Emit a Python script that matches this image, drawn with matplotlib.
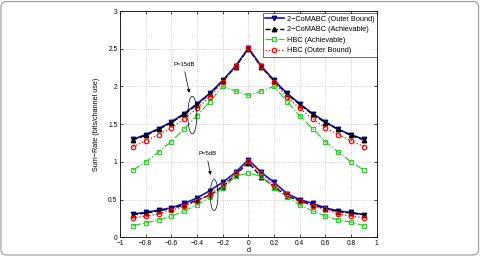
import matplotlib
matplotlib.use('Agg')
import matplotlib.pyplot as plt
from matplotlib.patches import Ellipse, FancyBboxPatch

plt.rcParams['font.family'] = ['Liberation Sans', 'DejaVu Sans']
plt.rcParams['axes.unicode_minus'] = True

# distance d
d = [-0.9, -0.8, -0.7, -0.6, -0.5, -0.4, -0.3, -0.2, -0.1, 0.0,
     0.1, 0.2, 0.3, 0.4, 0.5, 0.6, 0.7, 0.8, 0.9]

# P = 15 dB
co_outer_15 = [1.30, 1.36, 1.44, 1.53, 1.64, 1.77, 1.91, 2.08, 2.27, 2.51,
               2.27, 2.08, 1.91, 1.77, 1.64, 1.53, 1.43, 1.36, 1.30]
co_ach_15 = [1.29, 1.35, 1.43, 1.52, 1.63, 1.76, 1.90, 2.07, 2.26, 2.50,
             2.26, 2.07, 1.90, 1.76, 1.63, 1.52, 1.43, 1.35, 1.29]
hbc_ach_15 = [0.89, 1.00, 1.13, 1.27, 1.44, 1.61, 1.80, 2.00, 1.94, 1.88,
              1.94, 2.00, 1.80, 1.61, 1.44, 1.27, 1.13, 1.00, 0.89]
hbc_outer_15 = [1.20, 1.28, 1.36, 1.45, 1.57, 1.71, 1.86, 2.06, 2.27, 2.51,
                2.27, 2.06, 1.86, 1.71, 1.57, 1.45, 1.36, 1.28, 1.20]

# P = 5 dB
co_outer_5 = [0.31, 0.33, 0.36, 0.39, 0.45, 0.52, 0.62, 0.73, 0.86, 1.03,
              0.86, 0.73, 0.58, 0.50, 0.45, 0.39, 0.35, 0.33, 0.30]
co_ach_5 = [0.30, 0.32, 0.35, 0.38, 0.43, 0.49, 0.56, 0.67, 0.83, 0.99,
            0.80, 0.67, 0.55, 0.48, 0.43, 0.38, 0.34, 0.32, 0.30]
hbc_ach_5 = [0.155, 0.19, 0.23, 0.28, 0.35, 0.43, 0.53, 0.65, 0.81, 0.85,
             0.81, 0.65, 0.53, 0.43, 0.35, 0.28, 0.23, 0.20, 0.155]
hbc_outer_5 = [0.26, 0.28, 0.31, 0.36, 0.41, 0.48, 0.57, 0.69, 0.85, 1.01,
               0.85, 0.69, 0.575, 0.48, 0.415, 0.37, 0.31, 0.28, 0.26]

labels = ['2\u2212CoMABC (Outer Bound)', '2\u2212CoMABC (Achievable)',
          'HBC (Achievable)', 'HBC (Outer Bound)']
green = '#33cc33'

fig = plt.figure(figsize=(4.8, 2.56), dpi=100)
ax = fig.add_axes([0.25, 0.073, 0.535, 0.884])

ms = 3.2
styles = [
    dict(color='#1010d0', ls='-', marker='v', mfc='#2020c0', mec='#000080', lw=1.2, ms=ms),
    dict(color='k', ls='--', marker='^', mfc='k', mec='k', lw=1.0, ms=ms),
    dict(color=green, ls='-.', marker='s', mfc='none', mec=green, lw=0.9, ms=ms, mew=0.9),
    dict(color='r', ls=':', marker='o', mfc='none', mec='r', lw=0.9, ms=ms, mew=0.9),
]

series_15 = [co_outer_15, co_ach_15, hbc_ach_15, hbc_outer_15]
series_5 = [co_outer_5, co_ach_5, hbc_ach_5, hbc_outer_5]
draw_order = [2, 3, 1, 0]
for i in draw_order:
    ax.plot(d, series_15[i], label=labels[i], zorder=3 + i, **styles[i])
    ax.plot(d, series_5[i], zorder=3 + i, **styles[i])

ax.set_xlim(-1, 1)
ax.set_ylim(0, 3)
ax.set_xticks([-1, -0.8, -0.6, -0.4, -0.2, 0, 0.2, 0.4, 0.6, 0.8, 1])
ax.set_xticklabels(['\u22121', '\u22120.8', '\u22120.6', '\u22120.4', '\u22120.2',
                    '0', '0.2', '0.4', '0.6', '0.8', '1'])
ax.set_yticks([0, 0.5, 1, 1.5, 2, 2.5, 3])
ax.set_yticklabels(['0', '0.5', '1', '1.5', '2', '2.5', '3'])
ax.tick_params(direction='in', length=2.5, width=0.5, labelsize=4.8,
               top=True, right=True)
ax.tick_params(axis='x', pad=2.2)
ax.tick_params(axis='y', pad=1.8)
ax.grid(True, ls=':', color='#b0b0b0', lw=0.5)
for s in ax.spines.values():
    s.set_linewidth(0.6)

ax.set_xlabel('d', fontsize=5.2, labelpad=0)
ax.set_ylabel('Sum\u2212Rate (bits/channel use)', fontsize=5.2, labelpad=6)

handles, labs = ax.get_legend_handles_labels()
order = [labs.index(l) for l in labels]
leg = ax.legend([handles[k] for k in order], [labs[k] for k in order],
                loc='upper right', fontsize=5.3, frameon=True, fancybox=False,
                edgecolor='k', borderpad=0.35, labelspacing=0.45,
                handlelength=2.5, handletextpad=0.4, borderaxespad=0.0,
                bbox_to_anchor=(1.0, 0.99))
leg.get_frame().set_linewidth(0.5)

# annotations
ax.text(-0.5, 2.29, 'P=15dB', fontsize=4.3, ha='center', va='center')
ax.annotate('', xy=(-0.455, 1.88), xytext=(-0.50, 2.23),
            arrowprops=dict(arrowstyle='-|>', lw=0.5, color='k',
                            mutation_scale=5))
ax.add_patch(Ellipse((-0.437, 1.62), 0.07, 0.5, fill=False, lw=0.5, ec='k', zorder=10))

ax.text(-0.32, 1.105, 'P=5dB', fontsize=4.3, ha='center', va='center')
ax.annotate('', xy=(-0.29, 0.79), xytext=(-0.32, 1.05),
            arrowprops=dict(arrowstyle='-|>', lw=0.5, color='k',
                            mutation_scale=5))
ax.add_patch(Ellipse((-0.267, 0.56), 0.06, 0.41, fill=False, lw=0.5, ec='k', zorder=10))

# image frame
frame = FancyBboxPatch((0.002, 0.004), 0.995, 0.99, transform=fig.transFigure,
                       boxstyle='round,pad=0,rounding_size=0.012',
                       mutation_aspect=480 / 256, fill=False, ec='#999999', lw=0.8)
fig.patches.append(frame)

fig.savefig('out.png', dpi=100)
